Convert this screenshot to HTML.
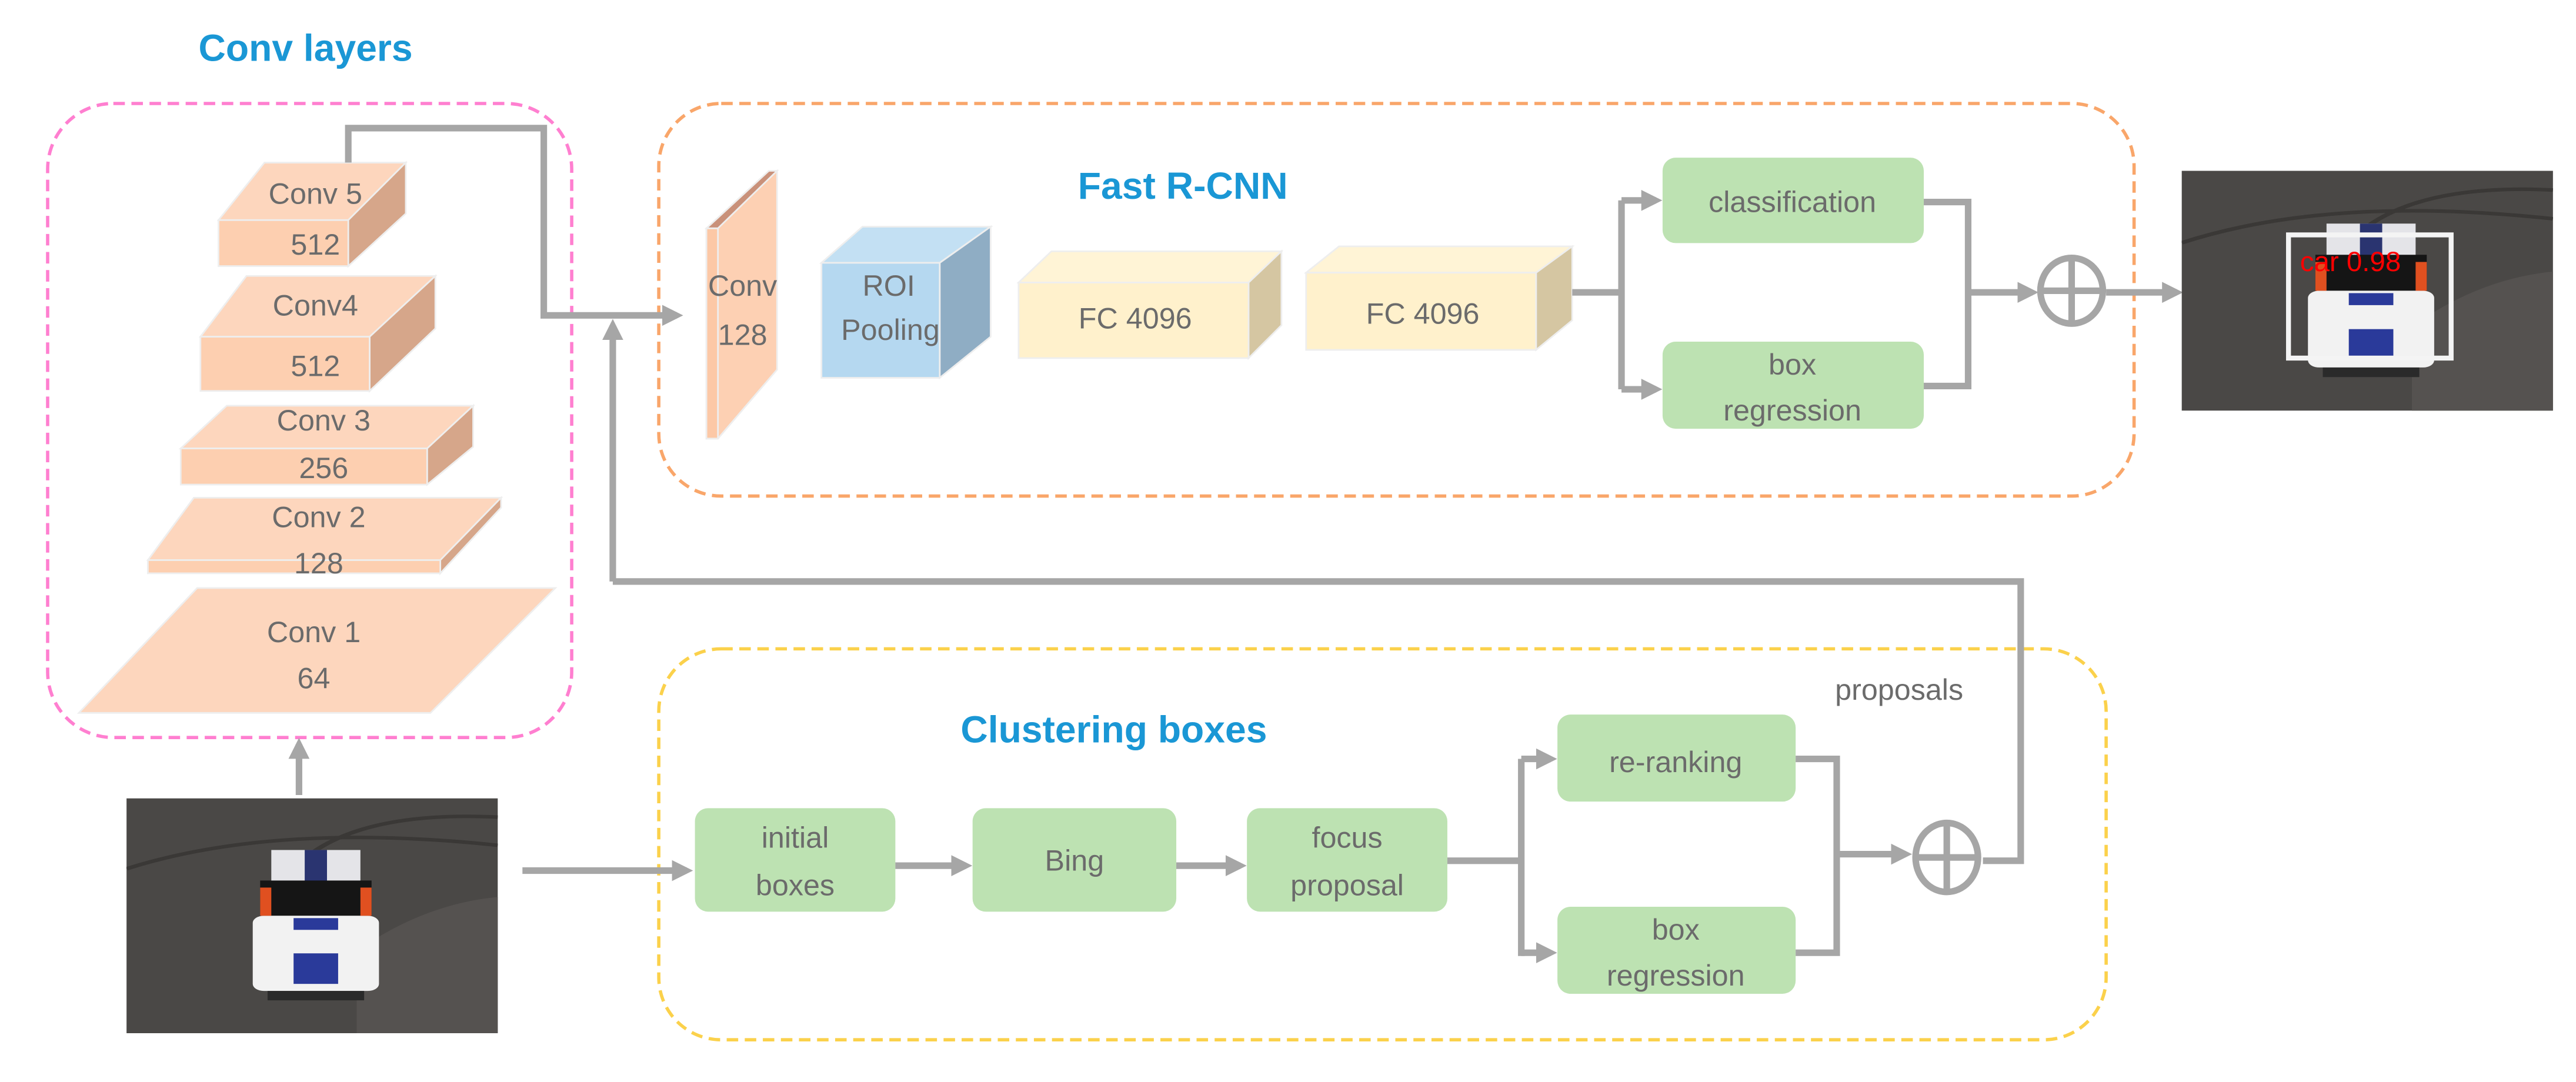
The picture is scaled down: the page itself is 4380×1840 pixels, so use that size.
<!DOCTYPE html>
<html><head><meta charset="utf-8"><style>
html,body{margin:0;padding:0;background:#fff;}
svg{display:block;}
text{font-family:"Liberation Sans Narrow","Liberation Sans",sans-serif;fill:#6b6b6b;}
.t{font-size:18px;text-anchor:middle;}
.h{font-size:23px;font-weight:bold;fill:#1a97d5;text-anchor:middle;}
</style></head><body>
<svg width="4380" height="1840" viewBox="0 0 1568 658.7" preserveAspectRatio="none" xmlns="http://www.w3.org/2000/svg">
<defs>
<marker id="a" viewBox="0 0 10 10" refX="7" refY="5" markerWidth="3.2" markerHeight="3.2" orient="auto"><path d="M0,0L10,5L0,10z" fill="#a6a6a6"/></marker>
<g id="car">
<rect x="0" y="0" width="100" height="100" fill="#4a4846"/>
<path d="M0,30 Q40,10 100,20" stroke="#3a3836" stroke-width="1.5" fill="none"/>
<path d="M45,30 Q60,5 100,8" stroke="#3a3836" stroke-width="1.5" fill="none"/>
<path d="M62,65 Q80,45 100,42 L100,100 L62,100z" fill="#555250"/>
<rect x="39" y="22" width="24" height="14" fill="#e4e4e8"/>
<rect x="48" y="22" width="6" height="14" fill="#2a3470"/>
<rect x="36" y="35" width="30" height="15" fill="#151515"/>
<rect x="34" y="50" width="34" height="32" rx="3" fill="#f2f2f2"/>
<rect x="45" y="51" width="12" height="5" fill="#2a3a9a"/>
<rect x="45" y="66" width="12" height="13" fill="#2a3a9a"/>
<rect x="36" y="38" width="3" height="12" fill="#e05020"/>
<rect x="63" y="38" width="3" height="12" fill="#e05020"/>
<rect x="38" y="82" width="26" height="4" fill="#2a2a2a"/>
</g>
</defs>

<text class="h" x="186" y="37">Conv layers</text>
<text class="h" x="720" y="121">Fast R-CNN</text>
<text class="h" x="678" y="452">Clustering boxes</text>

<rect x="29" y="63" width="319" height="386" rx="40" fill="none" stroke="#ff7fd0" stroke-width="2" stroke-dasharray="7,4"/>
<rect x="401" y="63" width="898" height="239" rx="38" fill="none" stroke="#f9a66a" stroke-width="2" stroke-dasharray="7,4"/>
<rect x="401" y="395" width="881" height="238" rx="38" fill="none" stroke="#fbd14b" stroke-width="2" stroke-dasharray="7,4"/>

<g stroke="#eee" stroke-width="1">
<polygon points="133,134 161,99 247,99 212,134" fill="#fdd6bd"/>
<polygon points="212,134 247,99 247,130 212,162" fill="#d6a68a"/>
<rect x="133" y="134" width="79" height="28" fill="#fdcfb0"/>
<polygon points="122,205 150,168 265,168 225,205" fill="#fdd6bd"/>
<polygon points="225,205 265,168 265,200 225,238" fill="#d6a68a"/>
<rect x="122" y="205" width="103" height="33" fill="#fdcfb0"/>
<polygon points="110,273 138,247 288,247 260,273" fill="#fdd6bd"/>
<polygon points="260,273 288,247 288,272 260,295" fill="#d6a68a"/>
<rect x="110" y="273" width="150" height="22" fill="#fdcfb0"/>
<polygon points="90,341 118,303 305,303 268,341" fill="#fdd6bd"/>
<polygon points="268,341 305,303 305,309 268,349" fill="#d6a68a"/>
<rect x="90" y="341" width="178" height="8" fill="#fdcfb0"/>
<polygon points="48,434 120,358 338,358 262,434" fill="#fdd6bd"/>
</g>
<text class="t" x="192" y="124">Conv 5</text><text class="t" x="192" y="155">512</text>
<text class="t" x="192" y="192">Conv4</text><text class="t" x="192" y="229">512</text>
<text class="t" x="197" y="262">Conv 3</text><text class="t" x="197" y="291">256</text>
<text class="t" x="194" y="321">Conv 2</text><text class="t" x="194" y="349">128</text>
<text class="t" x="191" y="391">Conv 1</text><text class="t" x="191" y="419">64</text>

<g stroke="#eee" stroke-width="1">
<polygon points="430,139 473,104 473,225 437,267 430,267" fill="#fdd0b3"/>
<polygon points="430,139 437,139 473,104 468,104" fill="#c9917a"/>
<rect x="430" y="139" width="7" height="128" fill="#fcc8a6"/>
<polygon points="500,160 525,138 603,138 572,160" fill="#c3e0f3"/>
<polygon points="572,160 603,138 603,205 572,230" fill="#8fadc4"/>
<rect x="500" y="160" width="72" height="70" fill="#b5d8f0"/>
<polygon points="620,172 640,153 780,153 760,172" fill="#fff4d6"/>
<polygon points="760,172 780,153 780,198 760,218" fill="#d5c6a2"/>
<rect x="620" y="172" width="140" height="46" fill="#fff1cc"/>
<polygon points="795,166 815,150 957,150 935,166" fill="#fff4d6"/>
<polygon points="935,166 957,150 957,195 935,213" fill="#d5c6a2"/>
<rect x="795" y="166" width="140" height="47" fill="#fff1cc"/>
</g>
<text class="t" x="452" y="180">Conv</text><text class="t" x="452" y="210">128</text>
<text class="t" x="541" y="180">ROI</text><text class="t" x="542" y="207">Pooling</text>
<text class="t" x="691" y="200">FC  4096</text>
<text class="t" x="866" y="197">FC  4096</text>

<g fill="#bde2b2">
<rect x="1012" y="96" width="159" height="52" rx="8"/>
<rect x="1012" y="208" width="159" height="53" rx="8"/>
<rect x="423" y="492" width="122" height="63" rx="8"/>
<rect x="592" y="492" width="124" height="63" rx="8"/>
<rect x="759" y="492" width="122" height="63" rx="8"/>
<rect x="948" y="435" width="145" height="53" rx="8"/>
<rect x="948" y="552" width="145" height="53" rx="8"/>
</g>
<text class="t" x="1091" y="129">classification</text>
<text class="t" x="1091" y="228">box</text><text class="t" x="1091" y="256">regression</text>
<text class="t" x="484" y="516">initial</text><text class="t" x="484" y="545">boxes</text>
<text class="t" x="654" y="530">Bing</text>
<text class="t" x="820" y="516">focus</text><text class="t" x="820" y="545">proposal</text>
<text class="t" x="1020" y="470">re-ranking</text>
<text class="t" x="1020" y="572">box</text><text class="t" x="1020" y="600">regression</text>
<text class="t" x="1156" y="426">proposals</text>

<g stroke="#a6a6a6" stroke-width="4" fill="none">
<polyline points="212,99 212,78 331,78 331,192 412,192" marker-end="url(#a)"/>
<line x1="373" y1="354" x2="373" y2="198" marker-end="url(#a)"/>
<polyline points="373,354 1230,354 1230,524 1207,524"/>
<line x1="182" y1="484" x2="182" y2="453" marker-end="url(#a)"/>
<polyline points="957,178 987,178"/>
<polyline points="987,122 987,237"/>
<line x1="987" y1="122" x2="1008" y2="122" marker-end="url(#a)"/>
<line x1="987" y1="237" x2="1008" y2="237" marker-end="url(#a)"/>
<polyline points="1171,123 1198,123 1198,235 1171,235"/>
<line x1="1198" y1="178" x2="1237" y2="178" marker-end="url(#a)"/>
<line x1="1282" y1="178" x2="1325" y2="178" marker-end="url(#a)"/>
<line x1="318" y1="530" x2="418" y2="530" marker-end="url(#a)"/>
<line x1="545" y1="527" x2="588" y2="527" marker-end="url(#a)"/>
<line x1="716" y1="527" x2="755" y2="527" marker-end="url(#a)"/>
<polyline points="881,524 926,524"/>
<polyline points="926,462 926,582"/>
<line x1="926" y1="462" x2="944" y2="462" marker-end="url(#a)"/>
<line x1="926" y1="580" x2="944" y2="580" marker-end="url(#a)"/>
<polyline points="1093,462 1118,462 1118,580 1093,580"/>
<line x1="1118" y1="520" x2="1160" y2="520" marker-end="url(#a)"/>
<ellipse cx="1261" cy="177" rx="19" ry="20"/>
<line x1="1261" y1="157" x2="1261" y2="197"/>
<line x1="1242" y1="177" x2="1280" y2="177"/>
<ellipse cx="1185" cy="522" rx="19" ry="21"/>
<line x1="1185" y1="501" x2="1185" y2="543"/>
<line x1="1166" y1="522" x2="1204" y2="522"/>
</g>

<svg x="77" y="486" width="226" height="143" viewBox="0 0 100 100" preserveAspectRatio="none"><use href="#car"/></svg>
<svg x="1328" y="104" width="226" height="146" viewBox="0 0 100 100" preserveAspectRatio="none"><use href="#car"/></svg>
<rect x="1393" y="143" width="99" height="75" fill="none" stroke="#f4f4f4" stroke-width="3"/>
<text x="1400" y="165" style="font-size:17px;fill:#ff0000;">car  0.98</text>
</svg>
</body></html>
